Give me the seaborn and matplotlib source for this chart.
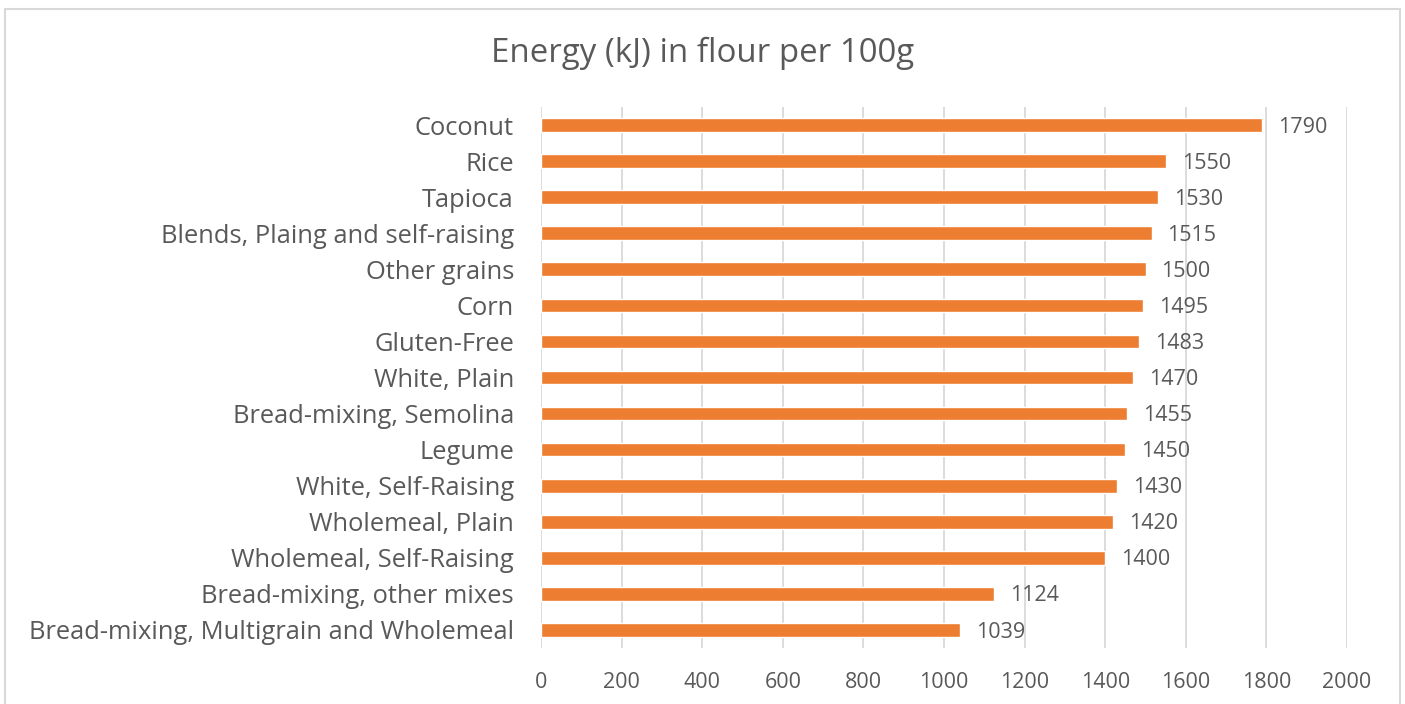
import matplotlib
matplotlib.use("Agg")
import matplotlib.pyplot as plt
import seaborn as sns
import pandas as pd
from matplotlib.patches import Rectangle

categories = [
    "Coconut", "Rice", "Tapioca", "Blends, Plaing and self-raising", "Other grains",
    "Corn", "Gluten-Free", "White, Plain", "Bread-mixing, Semolina", "Legume",
    "White, Self-Raising", "Wholemeal, Plain", "Wholemeal, Self-Raising",
    "Bread-mixing, other mixes", "Bread-mixing, Multigrain and Wholemeal",
]
values = [1790, 1550, 1530, 1515, 1500, 1495, 1483, 1470, 1455, 1450, 1430, 1420, 1400, 1124, 1039]
x_ticks = [0, 200, 400, 600, 800, 1000, 1200, 1400, 1600, 1800, 2000]
title = "Energy (kJ) in flour per 100g"

sns.set_theme(style="white")
plt.rcParams["font.family"] = ["Open Sans", "DejaVu Sans"]

TEXT = "#595959"
GRID = "#D9D9D9"
BAR = "#ED7D31"

df = pd.DataFrame({"category": categories, "value": values})

fig = plt.figure(figsize=(14.05, 7.04), dpi=100)
ax = fig.add_axes([541 / 1405, 1 - 648 / 704, (1347 - 541) / 1405, (648 - 107) / 704])

sns.barplot(data=df, x="value", y="category", orient="h", color=BAR,
            width=0.38, saturation=1, ax=ax, zorder=3)

ax.set_xlim(0, 2000)
ax.set_ylim(len(categories) - 0.5, -0.5)
ax.set_xticks(x_ticks)
ax.set_xticklabels([str(t) for t in x_ticks])
ax.xaxis.grid(True, color=GRID, linewidth=1.3, zorder=0)
ax.yaxis.grid(False)
for s in ax.spines.values():
    s.set_visible(False)
ax.tick_params(axis="x", length=0, pad=17, labelsize=15.5, labelcolor=TEXT)
ax.tick_params(axis="y", length=0, pad=19.5, labelsize=18.4, labelcolor=TEXT)
ax.set_xlabel("")
ax.set_ylabel("")

for i, v in enumerate(values):
    ax.annotate(str(v), xy=(v, i), xytext=(11.5, -1.5), textcoords="offset points",
                va="center", ha="left", fontsize=15.5, color=TEXT)

fig.text(0.5, 1 - 53 / 704, title, ha="center", va="center", fontsize=23.8, color=TEXT)

fig.patches.append(Rectangle((5 / 1405, -0.05), (1400 - 5) / 1405, 1.05 - 9 / 704,
                             transform=fig.transFigure, fill=False,
                             edgecolor="#D9D9D9", linewidth=1.5))

fig.savefig("out.png", dpi=100, facecolor="white")
